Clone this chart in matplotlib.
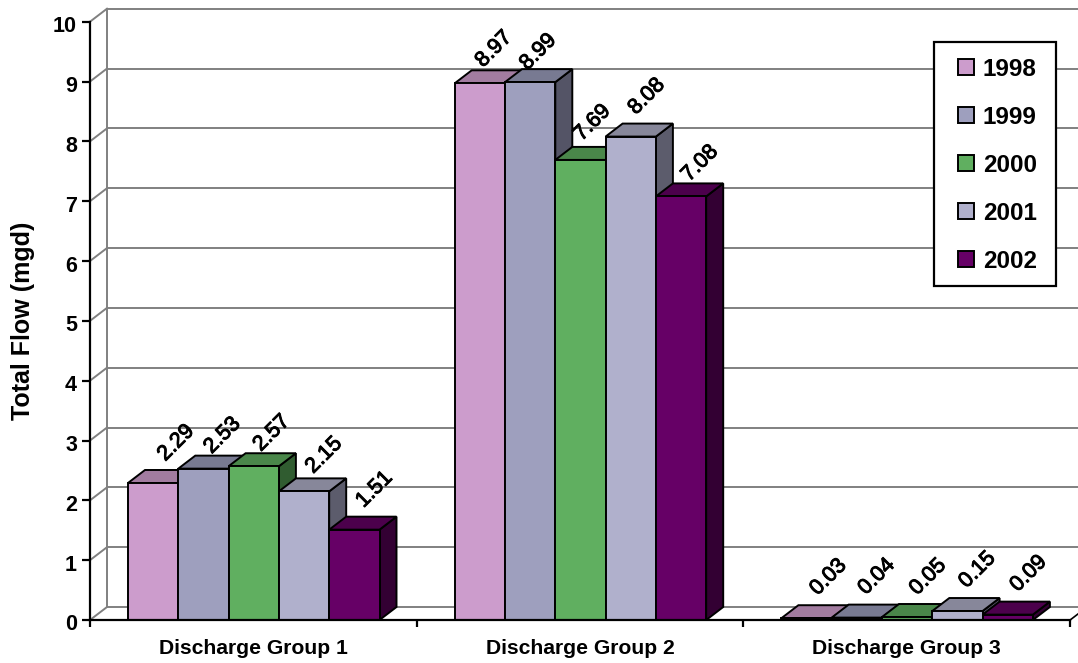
import matplotlib
matplotlib.use("Agg")
import matplotlib.pyplot as plt
import matplotlib.patheffects as pe
from matplotlib.patches import Polygon, Rectangle
from matplotlib.transforms import ScaledTranslation

groups = ["Discharge Group 1", "Discharge Group 2", "Discharge Group 3"]
years = ["1998", "1999", "2000", "2001", "2002"]
flow_1998 = [2.29, 8.97, 0.03]
flow_1999 = [2.53, 8.99, 0.04]
flow_2000 = [2.57, 7.69, 0.05]
flow_2001 = [2.15, 8.08, 0.15]
flow_2002 = [1.51, 7.08, 0.09]
y_ticks = [0, 1, 2, 3, 4, 5, 6, 7, 8, 9, 10]

series = [flow_1998, flow_1999, flow_2000, flow_2001, flow_2002]
front = ["#CC9CCC", "#9E9FBE", "#60AF60", "#B0B0CC", "#660066"]
top = ["#A27CA0", "#787A92", "#4A874A", "#87879A", "#4C004C"]
side = ["#7A5C7A", "#545466", "#305C30", "#5C5C6C", "#330033"]
GRID = "#808080"

W, H = 1078, 663
PX_LEFT, PX_ZERO = 90, 620
PX_GROUP, PX_UNIT = 326.7, 59.83

plt.rcParams["font.family"] = ["Liberation Sans", "DejaVu Sans"]
fig = plt.figure(figsize=(W / 100, H / 100), dpi=100)
ax = fig.add_axes([PX_LEFT / W, (H - PX_ZERO) / H, (W - PX_LEFT) / W, PX_ZERO / H])
ax.set_xlim(0, (W - PX_LEFT) / PX_GROUP)
ax.set_ylim(0, PX_ZERO / PX_UNIT)
ax.patch.set_visible(False)

# Oblique depth of the 3-D box, and bar layout within a group (group units)
DX, DY = 17 / PX_GROUP, 13 / PX_UNIT
BAR_W = 50.3 / PX_GROUP
BAR_START = 38 / PX_GROUP
xmax = ax.get_xlim()[1]

# Back wall, floor and side wall
for v in y_ticks:
    ax.plot([0, DX], [v, v + DY], color=GRID, lw=1.4, zorder=1, clip_on=False)
    ax.plot([DX, xmax], [v + DY, v + DY], color=GRID, lw=1.4, zorder=1, clip_on=False)
ax.plot([DX, DX], [DY, 10 + DY], color=GRID, lw=1.4, zorder=1)
ax.plot([3, 3 + DX], [0, DY], color="black", lw=1.2, zorder=1, clip_on=False)

# Bars, painted back to front within each group
EDGE = dict(edgecolor="black", linewidth=1.4, joinstyle="miter")
for g in range(len(groups)):
    for s, vals in enumerate(series):
        v = vals[g]
        x0 = g + BAR_START + s * BAR_W
        x1 = x0 + BAR_W
        z = 3 + g * 10 + s * 0.1
        ax.add_patch(Polygon([(x1, 0), (x1 + DX, DY), (x1 + DX, v + DY), (x1, v)],
                             facecolor=side[s], zorder=z, **EDGE))
        ax.add_patch(Polygon([(x0, v), (x0 + DX, v + DY), (x1 + DX, v + DY), (x1, v)],
                             facecolor=top[s], zorder=z, **EDGE))
        ax.add_patch(Polygon([(x0, 0), (x1, 0), (x1, v), (x0, v)],
                             facecolor=front[s], zorder=z, **EDGE))

# Rotated value labels; nudges are in pixels from the bar's top centre
nudge_x = [[23, 19, 18, 20, 20], [14, 8, 12, 16, 19], [22, 20, 21, 20, 21]]
nudge_y = [[40, 33, 33, 36, 40], [34, 30, 37, 40, 33], [41, 41, 40, 41, 41]]
label_fx = [pe.withStroke(linewidth=0.7, foreground="black")]
for g in range(len(groups)):
    for s, vals in enumerate(series):
        v = vals[g]
        xc = g + BAR_START + (s + 0.5) * BAR_W
        ax.annotate(f"{v:.2f}", (xc, v), xytext=(nudge_x[g][s] * 0.72, nudge_y[g][s] * 0.72),
                    textcoords="offset points", rotation=45, ha="center", va="center",
                    rotation_mode="anchor", fontsize=15.5, color="black", zorder=60,
                    path_effects=label_fx)

# Axes
for name in ("top", "right"):
    ax.spines[name].set_visible(False)
for name in ("left", "bottom"):
    ax.spines[name].set_linewidth(1.6)
    ax.spines[name].set_zorder(50)
ax.spines["left"].set_bounds(0, 10)
ax.spines["bottom"].set_bounds(0, 3)
ax.set_yticks(y_ticks)
ax.set_yticklabels([str(t) for t in y_ticks], fontsize=15.5, fontweight="bold")
ax.set_xticks([0, 1, 2, 3])
ax.set_xticklabels([])
ax.tick_params(axis="x", width=1.6, length=5, direction="out", zorder=50)
ax.tick_params(axis="y", width=1.6, length=5.8, direction="out", zorder=50, pad=3.6)
# Tick numerals sit a little below their tick marks
shift = ScaledTranslation(0, -2.5 / 100, fig.dpi_scale_trans)
for lbl in ax.get_yticklabels():
    lbl.set_transform(lbl.get_transform() + shift)
for i, name in enumerate(groups):
    ax.text(i + 0.5, -29 / PX_UNIT, name, ha="center", va="center",
            fontsize=15.2, fontweight="bold", zorder=60)
fig.text(23 / W, 1 - 321 / H, "Total Flow (mgd)", rotation=90, ha="center", va="center",
         fontsize=18, fontweight="bold")

# Legend box, laid out in figure pixels
def fx(px):
    return px / W
def fy(py):
    return 1 - py / H

fig.add_artist(Rectangle((fx(934), fy(286)), 122 / W, 244 / H, transform=fig.transFigure,
                         facecolor="white", edgecolor="black", linewidth=1.6, zorder=70))
for i, (year, colour) in enumerate(zip(years, front)):
    yc = 67 + i * 48
    fig.add_artist(Rectangle((fx(958), fy(yc + 8)), 16 / W, 16 / H, transform=fig.transFigure,
                             facecolor=colour, edgecolor="black", linewidth=1.4, zorder=71))
    fig.text(fx(983), fy(yc + 2.5), year, ha="left", va="center", fontsize=17.5,
             fontweight="bold", zorder=72)

fig.savefig("out.png", dpi=100)
